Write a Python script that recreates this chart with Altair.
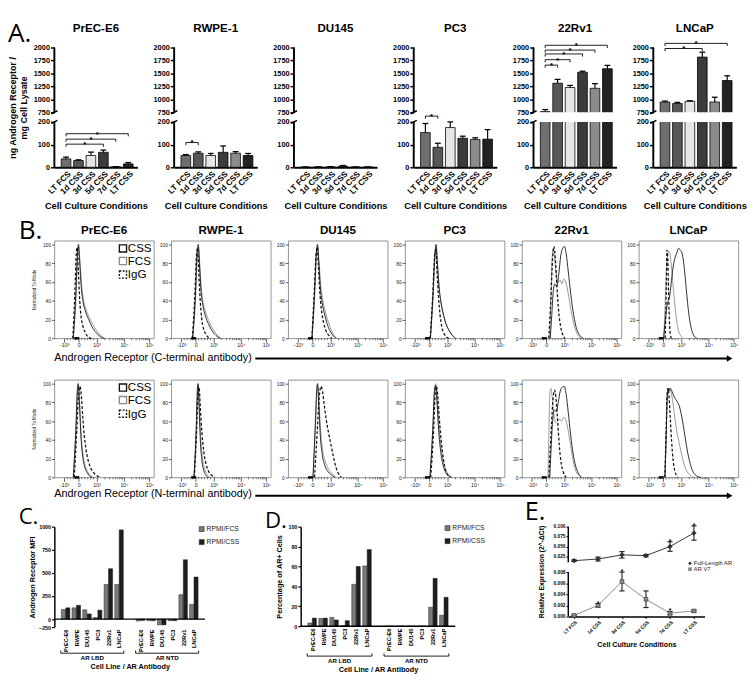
import altair as alt
import pandas as pd

FONT = "Liberation Sans"
LETTER_FONT = "Open Sans"

# ---------------- Panel A: ELISA ----------------
conditions = ["LT FCS", "1d CSS", "3d CSS", "5d CSS", "7d CSS", "LT CSS"]
condition_fill = ["#6f6f6f", "#575757", "#e6e6e6", "#3b3b3b", "#8b8b8b", "#222222"]
cell_lines = ["PrEC-E6", "RWPE-1", "DU145", "PC3", "22Rv1", "LNCaP"]

prec_mean = [37, 30, 52, 66, 2, 15]
prec_err = [8, 3, 15, 10, 1, 6]
rwpe_mean = [52, 62, 52, 66, 62, 52]
rwpe_err = [4, 6, 9, 28, 7, 9]
du145_mean = [1, 1, 2, 5, 1, 1]
du145_err = [0.5, 0.5, 1, 3, 0.5, 0.5]
pc3_mean = [153, 88, 175, 128, 123, 124]
pc3_err = [40, 18, 25, 9, 7, 42]
rv1_mean = [762, 1310, 1228, 1522, 1212, 1590]
rv1_err = [40, 75, 40, 20, 90, 65]
lncap_mean = [948, 918, 960, 1815, 948, 1362]
lncap_err = [18, 22, 12, 95, 92, 92]

# significance brackets (from, to, level)
prec_sig = [(0, 3, 102), (0, 4, 124), (0, 5, 148)]
rwpe_sig = [(0, 1, 109)]
du145_sig = []
pc3_sig = [(0, 1, 530)]
rv1_sig = [(0, 1, 1660), (0, 2, 1765), (0, 3, 1876), (0, 4, 1950), (0, 5, 2043)]
lncap_sig = [(0, 3, 1981), (0, 5, 2080)]

# ---------------- Panel B: flow histograms (display channel 0-1000, % of mode) ----------------
flow_c_prec = {
    "CSS": [(190, 0), (215, 45), (232, 90), (242, 100), (255, 80), (270, 55), (290, 38), (315, 28), (345, 20), (380, 12), (420, 6), (460, 2), (495, 0)],
    "FCS": [(190, 0), (217, 42), (234, 88), (244, 98), (257, 83), (273, 58), (293, 41), (318, 31), (348, 23), (385, 15), (425, 8), (465, 3), (505, 0)],
    "IgG": [(185, 0), (205, 45), (220, 90), (230, 97), (242, 70), (255, 40), (270, 22), (290, 12), (315, 5), (345, 1), (370, 0)],
}
flow_c_rwpe = {
    "CSS": [(215, 0), (242, 45), (260, 92), (272, 100), (284, 78), (298, 52), (318, 35), (343, 24), (375, 15), (410, 8), (450, 3), (490, 0)],
    "FCS": [(215, 0), (244, 42), (262, 88), (274, 97), (286, 80), (300, 56), (321, 38), (348, 27), (380, 18), (418, 10), (460, 4), (500, 0)],
    "IgG": [(212, 0), (238, 48), (255, 90), (265, 96), (277, 70), (290, 42), (305, 22), (325, 10), (350, 4), (380, 0)],
}
flow_c_du145 = {
    "CSS": [(240, 0), (265, 48), (284, 92), (295, 100), (307, 82), (322, 56), (342, 38), (365, 26), (390, 16), (420, 8), (450, 3), (480, 0)],
    "FCS": [(240, 0), (267, 45), (286, 90), (297, 98), (309, 84), (325, 60), (346, 42), (370, 30), (396, 20), (426, 11), (456, 4), (490, 0)],
    "IgG": [(238, 0), (262, 48), (281, 90), (292, 97), (304, 78), (318, 50), (335, 30), (355, 17), (380, 8), (410, 3), (440, 0)],
}
flow_c_pc3 = {
    "CSS": [(255, 0), (280, 45), (300, 90), (312, 100), (325, 80), (342, 55), (362, 38), (385, 26), (410, 16), (440, 9), (470, 4), (505, 0)],
    "FCS": [(255, 0), (282, 43), (302, 88), (314, 97), (327, 78), (344, 52), (365, 36), (388, 24), (414, 15), (444, 8), (475, 3), (510, 0)],
    "IgG": [(252, 0), (278, 45), (298, 88), (310, 95), (322, 70), (336, 45), (352, 25), (370, 12), (392, 5), (420, 1), (440, 0)],
}
flow_c_22rv1 = {
    "CSS": [(285, 0), (300, 25), (315, 50), (330, 58), (350, 55), (370, 68), (390, 88), (410, 96), (428, 98), (445, 90), (465, 72), (490, 48), (515, 28), (540, 14), (565, 6), (590, 2), (615, 0)],
    "FCS": [(280, 0), (292, 45), (305, 88), (315, 95), (328, 85), (345, 68), (365, 60), (385, 62), (400, 58), (420, 63), (440, 60), (465, 48), (490, 32), (515, 18), (540, 9), (565, 3), (600, 0)],
    "IgG": [(270, 0), (290, 40), (308, 85), (322, 98), (336, 85), (352, 55), (370, 28), (390, 12), (410, 4), (430, 0)],
}
flow_c_lncap = {
    "CSS": [(250, 0), (265, 18), (280, 32), (295, 40), (310, 45), (325, 58), (340, 72), (355, 82), (370, 88), (385, 92), (400, 96), (415, 94), (430, 92), (445, 85), (460, 72), (475, 55), (490, 38), (505, 24), (520, 14), (540, 6), (560, 2), (585, 0)],
    "FCS": [(250, 0), (262, 28), (275, 65), (288, 88), (300, 93), (312, 90), (325, 80), (340, 62), (355, 44), (370, 28), (385, 16), (400, 8), (420, 3), (445, 0)],
    "IgG": [(265, 0), (275, 45), (283, 94), (291, 85), (299, 50), (307, 20), (316, 5), (328, 0)],
}
flow_n_prec = {
    "CSS": [(190, 0), (215, 50), (232, 95), (240, 100), (252, 78), (268, 42), (285, 22), (305, 11), (330, 5), (360, 1), (380, 0)],
    "FCS": [(190, 0), (217, 48), (234, 92), (242, 98), (254, 80), (270, 45), (288, 25), (310, 13), (335, 6), (365, 2), (390, 0)],
    "IgG": [(200, 0), (225, 50), (245, 90), (258, 97), (270, 88), (285, 65), (300, 45), (318, 30), (340, 18), (365, 10), (395, 5), (425, 2), (460, 0)],
}
flow_n_rwpe = {
    "CSS": [(228, 0), (250, 50), (263, 95), (270, 100), (280, 75), (292, 40), (308, 18), (328, 7), (350, 2), (375, 0)],
    "FCS": [(228, 0), (252, 48), (265, 92), (272, 97), (282, 78), (295, 44), (312, 22), (335, 9), (360, 3), (390, 0)],
    "IgG": [(232, 0), (255, 50), (270, 92), (280, 96), (292, 75), (308, 48), (326, 28), (348, 15), (372, 7), (400, 3), (440, 0)],
}
flow_n_du145 = {
    "CSS": [(250, 0), (272, 55), (288, 95), (296, 100), (308, 78), (323, 45), (342, 25), (365, 14), (395, 7), (430, 3), (470, 0)],
    "FCS": [(250, 0), (274, 52), (290, 92), (298, 97), (310, 80), (326, 50), (346, 30), (370, 18), (400, 10), (435, 5), (480, 0)],
    "IgG": [(265, 0), (290, 45), (312, 85), (330, 97), (345, 92), (362, 78), (382, 62), (405, 48), (430, 35), (455, 22), (480, 11), (505, 4), (535, 0)],
}
flow_n_pc3 = {
    "CSS": [(250, 0), (278, 50), (298, 95), (308, 98), (320, 82), (338, 50), (358, 28), (380, 14), (405, 6), (435, 2), (465, 0)],
    "FCS": [(250, 0), (280, 50), (300, 97), (310, 100), (322, 85), (340, 55), (362, 32), (385, 17), (410, 8), (440, 3), (470, 0)],
    "IgG": [(258, 0), (285, 45), (305, 92), (316, 97), (328, 88), (345, 62), (365, 38), (388, 18), (410, 7), (435, 2), (455, 0)],
}
flow_n_22rv1 = {
    "CSS": [(280, 0), (295, 35), (310, 62), (325, 72), (345, 70), (365, 80), (385, 92), (405, 96), (425, 97), (445, 88), (465, 70), (490, 45), (515, 25), (540, 12), (565, 5), (595, 0)],
    "FCS": [(262, 0), (272, 50), (282, 92), (292, 95), (305, 85), (322, 66), (340, 58), (360, 60), (380, 62), (400, 60), (420, 64), (445, 60), (468, 48), (495, 30), (520, 15), (545, 6), (575, 2), (605, 0)],
    "IgG": [(270, 0), (290, 40), (310, 80), (328, 93), (342, 85), (358, 62), (375, 35), (395, 15), (418, 5), (445, 0)],
}
flow_n_lncap = {
    "CSS": [(262, 0), (275, 45), (285, 85), (295, 95), (305, 92), (315, 95), (328, 93), (340, 90), (355, 86), (372, 83), (390, 80), (410, 75), (425, 68), (440, 60), (455, 50), (470, 40), (485, 30), (500, 22), (518, 14), (540, 7), (565, 3), (590, 1), (625, 0)],
    "FCS": [(262, 0), (275, 42), (285, 80), (295, 92), (305, 95), (318, 93), (330, 88), (345, 78), (360, 65), (378, 52), (395, 42), (415, 32), (435, 22), (455, 14), (475, 8), (500, 4), (530, 1), (560, 0)],
    "IgG": [(262, 0), (275, 50), (285, 90), (293, 95), (303, 88), (315, 65), (330, 38), (345, 18), (362, 7), (380, 2), (395, 0)],
}
flow_major = [100, 245, 425, 700, 955]
flow_major_labels = ["-10³", "0", "10³", "10⁴", "10⁵"]
flow_minor = [130, 160, 190, 215, 275, 305, 335, 365, 395, 508, 556, 590, 617, 639, 657, 673, 687,
              777, 822, 854, 878, 898, 916, 930, 943]

# ---------------- Panels C, D ----------------
ab_lines = ["PrEC-E6", "RWPE", "DU145", "PC3", "22Rv1", "LNCaP"]
c_lbd_fcs = [104, 122, 101, 17, 375, 375]
c_lbd_css = [122, 149, 56, 97, 545, 965]
c_ntd_fcs = [-60, -50, -180, -50, 264, 160]
c_ntd_css = [-40, -50, -180, -50, 642, 455]
d_lbd_fcs = [3.2, 7.8, 8.8, 0.6, 42, 60.5]
d_lbd_css = [8.1, 8.1, 6.2, 5.5, 60, 77]
d_ntd_fcs = [0, 0, 0, 0, 19, 11]
d_ntd_css = [0, 0, 0, 0, 48, 29]

# ---------------- Panel E: qPCR ----------------
e_fl_mean = [0.0144, 0.0185, 0.029, 0.027, 0.050, 0.084]
e_fl_err = [0.002, 0.005, 0.008, 0.003, 0.012, 0.018]
e_fl_star = [False, False, False, False, True, True]
e_v7_mean = [0.0002, 0.0020, 0.0063, 0.0031, 0.0006, 0.0010]
e_v7_err = [0.0001, 0.0003, 0.0017, 0.0015, 0.0003, 0.0002]
e_v7_star = [False, True, True, False, True, False]


def blank():
    return alt.Data(values=[{}])


def anchor(L, R, T, B):
    # invisible rectangle that fixes the layout bounds of a panel
    return alt.Chart(blank()).mark_rect(opacity=0).encode(
        x=alt.value(-L), x2=alt.value(R), y=alt.value(-T), y2=alt.value(B))


def label(s, x, y, size, weight="normal", align="left", baseline="middle", font=FONT, color="black"):
    return alt.Chart(blank()).mark_text(
        text=s, font=font, fontSize=size, fontWeight=weight, align=align,
        baseline=baseline, color=color).encode(x=alt.value(x), y=alt.value(y))


def arr_expr(items):
    return "[" + ",".join("'" + s + "'" for s in items) + "]"


# ---------- A ----------
A_W, A_H = 86, 124


def elisa_panel(i, means, errs, sig):
    first = i == 0
    df = pd.DataFrame({"idx": list(range(6)), "cond": conditions, "mean": means, "err": errs})
    df["hi"] = df["mean"] + df["err"]
    xs = alt.Scale(domain=[-0.55, 5.35], nice=False, zero=False)
    ys = alt.Scale(domain=[0, 200, 750, 2000], range=[A_H, 77, 67, 0], nice=False, zero=False)
    xaxis = alt.Axis(values=list(range(6)), labelExpr=arr_expr(conditions) + "[round(datum.value)]",
                     labelAngle=-45, labelFont=FONT, labelFontSize=8.5, labelFontWeight="bold",
                     labelColor="black", labelOverlap=False, labelFlush=False, labelPadding=2,
                     ticks=False, domainWidth=2, domainColor="black", grid=False,
                     title="Cell Culture Conditions", titleFont=FONT, titleFontSize=9.6,
                     titleFontWeight="bold", titleColor="black", titlePadding=6)
    common = dict(values=[0, 100, 200, 750, 1000, 1250, 1500, 1750, 2000], format="d",
                  labelFont=FONT, labelFontSize=7.6, labelFontWeight="bold", labelColor="black",
                  labelOverlap=False, labelFlush=False, labelPadding=1, tickSize=4, tickWidth=1.5,
                  tickColor="black", domain=False, grid=False)
    if first:
        yaxis = alt.Axis(title=["ng Androgen Receptor /", "mg Cell Lysate"], titleFont=FONT,
                         titleFontSize=9.3, titleFontWeight="bold", titleColor="black",
                         titlePadding=5, **common)
    else:
        yaxis = alt.Axis(title=None, **common)
    X = lambda f: alt.X(f, scale=xs, axis=xaxis)
    Y = lambda f: alt.Y(f, scale=ys, axis=yaxis)
    base = alt.Chart(df)
    layers = []
    layers.append(base.mark_bar(width=10, stroke="black", strokeWidth=0.8).encode(
        x=X("idx:Q"), y=Y("mean:Q"), y2=alt.datum(0),
        color=alt.Color("cond:N", scale=alt.Scale(domain=conditions, range=condition_fill), legend=None)))
    # white break between the two axis segments
    layers.append(alt.Chart(alt.Data(values=[{"lo": 200, "hi": 750}])).mark_rect(color="white").encode(
        x=alt.value(1.5), x2=alt.value(A_W + 2), y=Y("lo:Q"), y2="hi:Q"))
    layers.append(alt.Chart(alt.Data(values=[{"a": 0, "b": 200}, {"a": 750, "b": 2000}])).mark_rule(
        color="black", strokeWidth=2).encode(x=alt.value(0), y=Y("a:Q"), y2="b:Q"))
    layers.append(alt.Chart(alt.Data(values=[{"a": 200}, {"a": 750}])).mark_point(
        shape="M-1,0.5L1,-0.5", size=40, filled=False, stroke="black", strokeWidth=1.6, opacity=1).encode(
        x=alt.value(0), y=Y("a:Q")))
    layers.append(base.mark_rule(color="black", strokeWidth=1.2).encode(
        x=X("idx:Q"), y=Y("mean:Q"), y2="hi:Q"))
    layers.append(base.mark_point(shape="M-1,0L1,0", size=36, filled=False, stroke="black",
                                  strokeWidth=1.3, opacity=1).encode(x=X("idx:Q"), y=Y("hi:Q")))
    if sig:
        sdf = pd.DataFrame(sig, columns=["i1", "i2", "lvl"])
        sdf["mid"] = (sdf["i1"] + sdf["i2"]) / 2
        ends = pd.DataFrame({"i": list(sdf["i1"]) + list(sdf["i2"]), "lvl": list(sdf["lvl"]) * 2})
        layers.append(alt.Chart(sdf).mark_rule(color="black", strokeWidth=0.9).encode(
            x=X("i1:Q"), x2="i2:Q", y=Y("lvl:Q")))
        layers.append(alt.Chart(ends).mark_point(shape="M0,0L0,1", size=30, filled=False, stroke="black",
                                                 strokeWidth=0.9, opacity=1).encode(x=X("i:Q"), y=Y("lvl:Q")))
        layers.append(alt.Chart(sdf).mark_text(text="*", font=FONT, fontSize=8, fontWeight="bold",
                                               baseline="alphabetic", dy=3).encode(x=X("mid:Q"), y=Y("lvl:Q")))
    layers.append(label(cell_lines[i], A_W / 2, -20, 12, "bold", "center"))
    if first:
        layers.append(label("A.", -48, -27, 27, font=LETTER_FONT, baseline="top"))
        layers.append(anchor(48, 94, 29, 173))
    else:
        layers.append(anchor(24, 94, 29, 173))
    return alt.layer(*layers).properties(width=A_W, height=A_H)


# ---------- B ----------
F_W, F_H = 103, 101


def flow_panel(curves, col, row):
    first = col == 0
    xs = alt.Scale(domain=[0, 1000], nice=False, zero=False)
    ys = alt.Scale(domain=[0, 104], nice=False, zero=False)
    xaxis = alt.Axis(values=flow_major,
                     labelExpr=arr_expr(flow_major_labels) + "[indexof(" + str(flow_major) + ", datum.value)]",
                     labelFont=FONT, labelFontSize=5.5, labelColor="#222", labelPadding=1,
                     labelFlush=False, labelOverlap=False, tickSize=4, tickColor="#333",
                     tickWidth=0.8, domain=False, grid=False, title=None)
    ycommon = dict(values=[0, 20, 40, 60, 80, 100], labelFont=FONT, labelFontSize=5, labelColor="#222",
                   labelPadding=1, labelFlush=False, labelOverlap=False, tickSize=3, tickColor="#333",
                   tickWidth=0.8, domain=False, grid=False)
    if first:
        yaxis = alt.Axis(title="Normalized To Mode", titleFont=FONT, titleFontSize=4.6,
                         titleFontWeight="normal", titleColor="#222", titlePadding=6, **ycommon)
    else:
        yaxis = alt.Axis(title=None, **ycommon)
    X = lambda f: alt.X(f, scale=xs, axis=xaxis)
    Y = lambda f: alt.Y(f, scale=ys, axis=yaxis)
    layers = []
    styles = [("FCS", "#8c8c8c", None, 0.9), ("CSS", "#111111", None, 0.9), ("IgG", "#111111", [3, 2], 1.3)]
    for ser, colr, dash, sw in styles:
        df = pd.DataFrame(curves[ser], columns=["ch", "pct"])
        mk = dict(color=colr, strokeWidth=sw, interpolate="monotone")
        if dash:
            mk["strokeDash"] = dash
        layers.append(alt.Chart(df).mark_line(**mk).encode(x=X("ch:Q"), y=Y("pct:Q")))
    layers.append(alt.Chart(pd.DataFrame({"m": flow_minor})).mark_rule(color="#333", strokeWidth=0.7).encode(
        x=X("m:Q"), y=alt.value(F_H), y2=alt.value(F_H + 2)))
    layers.append(alt.Chart(alt.Data(values=[{"a": 200, "b": 250}])).mark_rule(color="black", strokeWidth=2.5).encode(
        x=X("a:Q"), x2="b:Q", y=alt.value(F_H)))
    if row == 0:
        layers.append(label(cell_lines[col], F_W / 2, -11, 12, "bold", "center"))
    if first:
        for lab, yy, stroke, dash in [("CSS", 8, "#111111", None), ("FCS", 21, "#8c8c8c", None),
                                      ("IgG", 35, "#111111", [2, 1.5])]:
            mk = dict(shape="square", filled=False, size=55, stroke=stroke, strokeWidth=1.4, opacity=1)
            if dash:
                mk["strokeDash"] = dash
            layers.append(alt.Chart(blank()).mark_point(**mk).encode(x=alt.value(71), y=alt.value(yy)))
            layers.append(label(lab, 76, yy, 12))
        if row == 0:
            layers.append(label("B.", -37, -23, 27, font=LETTER_FONT, baseline="top"))
    L = 37 if first else 15
    if row == 0:
        layers.append(anchor(L, 104, 26, 113))
    else:
        layers.append(anchor(L, 104, 12, 111))
    return alt.layer(*layers).properties(width=F_W, height=F_H, view=alt.ViewBackground(stroke="#777", strokeWidth=0.8))


def strip(text, h, ty, ly):
    W = 700
    layers = [anchor(37, W, 0, h),
              label(text, 0, ty, 11.2),
              alt.Chart(blank()).mark_rule(color="black", strokeWidth=2).encode(
                  x=alt.value(208), x2=alt.value(697), y=alt.value(ly)),
              alt.Chart(blank()).mark_point(shape="triangle-right", filled=True, size=45, color="black",
                                            opacity=1).encode(x=alt.value(699), y=alt.value(ly))]
    return alt.layer(*layers).properties(width=W, height=h)


# ---------- C / D ----------
def ab_panel(lbd_fcs, lbd_css, ntd_fcs, ntd_css, ys, yvals, ytitle, W, H, letter, letter_x, letter_y,
             leg_x, leg_y, br_y, gt_y, xtp, L, R, T, ytp):
    pos = list(range(6)) + [p + 7 for p in range(6)]
    df = pd.DataFrame({"pos": pos, "line": ab_lines * 2, "fcs": lbd_fcs + ntd_fcs, "css": lbd_css + ntd_css})
    xs = alt.Scale(domain=[-0.6, 12.6], nice=False, zero=False)
    xaxis = alt.Axis(values=pos, labelExpr=arr_expr(ab_lines + [""] + ab_lines) + "[round(datum.value)]",
                     labelAngle=-90, labelFont=FONT, labelFontSize=5.8, labelFontWeight="bold",
                     labelColor="black", labelPadding=2, labelFlush=False, labelOverlap=False,
                     ticks=False, domain=False, grid=False, title="Cell Line / AR Antibody",
                     titleFont=FONT, titleFontSize=7.5, titleFontWeight="bold", titleColor="black",
                     titlePadding=xtp)
    yaxis = alt.Axis(values=yvals, format="d", labelFont=FONT, labelFontSize=5.5, labelFontWeight="bold",
                     labelColor="black", labelPadding=1, labelFlush=False, labelOverlap=False,
                     tickSize=3, tickWidth=1.2, tickColor="black", domainWidth=1.5, domainColor="black",
                     grid=False, title=ytitle, titleFont=FONT, titleFontSize=7.5, titleFontWeight="bold",
                     titleColor="black", titlePadding=ytp)
    X = lambda f: alt.X(f, scale=xs, axis=xaxis)
    Y = lambda f: alt.Y(f, scale=ys, axis=yaxis)
    base = alt.Chart(df)
    layers = [
        base.mark_bar(width=4.2, xOffset=-2.3, color="#7a7a7a", stroke="#222", strokeWidth=0.5).encode(
            x=X("pos:Q"), y=Y("fcs:Q"), y2=alt.datum(0)),
        base.mark_bar(width=4.2, xOffset=2.3, color="#1e1e1e", stroke="#111", strokeWidth=0.5).encode(
            x=X("pos:Q"), y=Y("css:Q"), y2=alt.datum(0)),
        alt.Chart(alt.Data(values=[{"z": 0}])).mark_rule(color="black", strokeWidth=1.5).encode(
            x=alt.value(0), x2=alt.value(W), y=Y("z:Q")),
    ]
    groups = pd.DataFrame({"g": ["AR LBD", "AR NTD"],
                           "a": [min(pos[:6]) - 0.45, min(pos[6:]) - 0.45],
                           "b": [max(pos[:6]) + 0.45, max(pos[6:]) + 0.45]})
    groups["m"] = (groups["a"] + groups["b"]) / 2
    ends = pd.DataFrame({"e": list(groups["a"]) + list(groups["b"])})
    layers.append(alt.Chart(groups).mark_rule(color="black", strokeWidth=0.9).encode(
        x=X("a:Q"), x2="b:Q", y=alt.value(br_y)))
    layers.append(alt.Chart(ends).mark_point(shape="M0,0L0,-1", size=30, filled=False, stroke="black",
                                             strokeWidth=0.9, opacity=1).encode(x=X("e:Q"), y=alt.value(br_y)))
    layers.append(alt.Chart(groups).mark_text(font=FONT, fontSize=6.3, fontWeight="bold", baseline="top").encode(
        x=X("m:Q"), y=alt.value(gt_y), text="g:N"))
    for lab, dy, colr in [("RPMI/FCS", 0, "#7a7a7a"), ("RPMI/CSS", 13.5, "#1e1e1e")]:
        layers.append(alt.Chart(blank()).mark_point(shape="square", filled=True, size=26, color=colr,
                                                    stroke="#222", strokeWidth=0.6, opacity=1).encode(
            x=alt.value(leg_x), y=alt.value(leg_y + dy)))
        layers.append(label(lab, leg_x + 5, leg_y + dy, 7, color="#222"))
    layers.append(label(letter, letter_x, letter_y, 23, font=LETTER_FONT, baseline="top"))
    layers.append(anchor(L, R, T, 10))
    return alt.layer(*layers).properties(width=W, height=H)


C_H = 104
c_scale = alt.Scale(domain=[-250, 0, 1000], range=[C_H, 95.7, 0], nice=False, zero=False)
panel_c = ab_panel(c_lbd_fcs, c_lbd_css, c_ntd_fcs, c_ntd_css, c_scale, [-250, 0, 250, 500, 750, 1000],
                   "Androgen Receptor MFI", 156, C_H, "C.", -37, -21, 152.5, 2.5, 131, 133, 12,
                   37, 192, 26, 2)
D_H = 103
d_scale = alt.Scale(domain=[0, 100], nice=False, zero=False)
panel_d = ab_panel(d_lbd_fcs, d_lbd_css, d_ntd_fcs, d_ntd_css, d_scale, [0, 20, 40, 60, 80, 100],
                   "Percentage of AR+ Cells", 160, D_H, "D.", -37, -17, 152, 1.5, 134, 136, 16,
                   37, 206, 18, 5)


# ---------- E ----------
def expr_panel():
    W, H = 141, 93
    xs = alt.Scale(domain=[-0.24, 5.44], nice=False, zero=False)
    ys = alt.Scale(domain=[0, 0.008, 0.01, 0.1], range=[H, 47, 37, 0], nice=False, zero=False)
    fl = pd.DataFrame({"idx": list(range(6)), "m": e_fl_mean, "e": e_fl_err, "s": e_fl_star})
    v7 = pd.DataFrame({"idx": list(range(6)), "m": e_v7_mean, "e": e_v7_err, "s": e_v7_star})
    for d in (fl, v7):
        d["lo"] = d["m"] - d["e"]
        d["hi"] = d["m"] + d["e"]
    xaxis = alt.Axis(values=list(range(6)), labelExpr=arr_expr(conditions) + "[round(datum.value)]",
                     labelAngle=-45, labelFont=FONT, labelFontSize=5, labelFontWeight="bold",
                     labelColor="black", labelOverlap=False, labelFlush=False, labelPadding=1,
                     tickSize=2, tickColor="black", domainWidth=1.5, domainColor="black", grid=False,
                     title="Cell Culture Conditions", titleFont=FONT, titleFontSize=7.4,
                     titleFontWeight="bold", titleColor="black", titlePadding=6)
    yaxis = alt.Axis(values=[0, 0.002, 0.004, 0.006, 0.008, 0.025, 0.05, 0.075, 0.1], format=".3f",
                     labelFont=FONT, labelFontSize=4.9, labelFontWeight="bold", labelColor="black",
                     labelOverlap=False, labelFlush=False, labelPadding=1, tickSize=2.5, tickWidth=1,
                     tickColor="black", domain=False, grid=False,
                     title="Relative Expression (2^-ΔCt)", titleFont=FONT, titleFontSize=7,
                     titleFontWeight="bold", titleColor="black", titlePadding=9)
    X = lambda f: alt.X(f, scale=xs, axis=xaxis)
    Y = lambda f: alt.Y(f, scale=ys, axis=yaxis)
    layers = [
        alt.Chart(fl).mark_line(color="#333", strokeWidth=1).encode(x=X("idx:Q"), y=Y("m:Q")),
        alt.Chart(v7).mark_line(color="#888", strokeWidth=1).encode(x=X("idx:Q"), y=Y("m:Q")),
        alt.Chart(alt.Data(values=[{"lo": 0.008, "hi": 0.01}])).mark_rect(color="white").encode(
            x=alt.value(1), x2=alt.value(W), y=Y("lo:Q"), y2="hi:Q"),
        alt.Chart(alt.Data(values=[{"a": 0, "b": 0.008}, {"a": 0.01, "b": 0.1}])).mark_rule(
            color="black", strokeWidth=1.5).encode(x=alt.value(0), y=Y("a:Q"), y2="b:Q"),
    ]
    for d, colr, shape, size in [(fl, "#333", "diamond", 24), (v7, "#888", "square", 16)]:
        b = alt.Chart(d)
        layers.append(b.mark_rule(color="black", strokeWidth=1).encode(x=X("idx:Q"), y=Y("lo:Q"), y2="hi:Q"))
        for f in ("lo", "hi"):
            layers.append(b.mark_point(shape="M-1,0L1,0", size=30, filled=False, stroke="black",
                                       strokeWidth=1, opacity=1).encode(x=X("idx:Q"), y=Y(f + ":Q")))
        layers.append(b.mark_point(shape=shape, filled=True, size=size, color=colr, opacity=1,
                                   stroke="#222", strokeWidth=0.5).encode(x=X("idx:Q"), y=Y("m:Q")))
        layers.append(b.transform_filter("datum.s").mark_text(text="*", font=FONT, fontSize=7,
                                                              fontWeight="bold", baseline="alphabetic", dy=2).encode(
            x=X("idx:Q"), y=Y("hi:Q")))
    for lab, yy, colr, shape in [("Full-Length AR", 38, "#333", "diamond"), ("AR V7", 44, "#888", "square")]:
        layers.append(alt.Chart(blank()).mark_point(shape=shape, filled=True, size=14, color=colr,
                                                    opacity=1).encode(x=alt.value(126), y=alt.value(yy)))
        layers.append(label(lab, 130, yy, 6, color="#222"))
    layers.append(label("E.", -45, -28, 26, font=LETTER_FONT, baseline="top"))
    layers.append(anchor(45, W, 28, 10))
    return alt.layer(*layers).properties(width=W, height=H)


panel_e = expr_panel()

row_a = alt.hconcat(
    elisa_panel(0, prec_mean, prec_err, prec_sig),
    elisa_panel(1, rwpe_mean, rwpe_err, rwpe_sig),
    elisa_panel(2, du145_mean, du145_err, du145_sig),
    elisa_panel(3, pc3_mean, pc3_err, pc3_sig),
    elisa_panel(4, rv1_mean, rv1_err, rv1_sig),
    elisa_panel(5, lncap_mean, lncap_err, lncap_sig),
    spacing=3)

flows_c = [flow_c_prec, flow_c_rwpe, flow_c_du145, flow_c_pc3, flow_c_22rv1, flow_c_lncap]
flows_n = [flow_n_prec, flow_n_rwpe, flow_n_du145, flow_n_pc3, flow_n_22rv1, flow_n_lncap]
row_b1 = alt.hconcat(*[flow_panel(c, k, 0) for k, c in enumerate(flows_c)], spacing=0)
row_b2 = alt.hconcat(*[flow_panel(c, k, 1) for k, c in enumerate(flows_n)], spacing=0)
strip1 = strip("Androgen Receptor (C-terminal antibody)", 17, 7, 8)
strip2 = strip("Androgen Receptor (N-terminal antibody)", 12, 6, 8)
row_cde = alt.hconcat(panel_c, panel_d, panel_e, spacing=26)

chart = alt.vconcat(row_a, row_b1, strip1, row_b2, strip2, row_cde, spacing=0).properties(
    padding=0).configure(font=FONT).configure_view(stroke=None)

chart.save("out.html", embed_options={"renderer": "svg", "actions": False})
